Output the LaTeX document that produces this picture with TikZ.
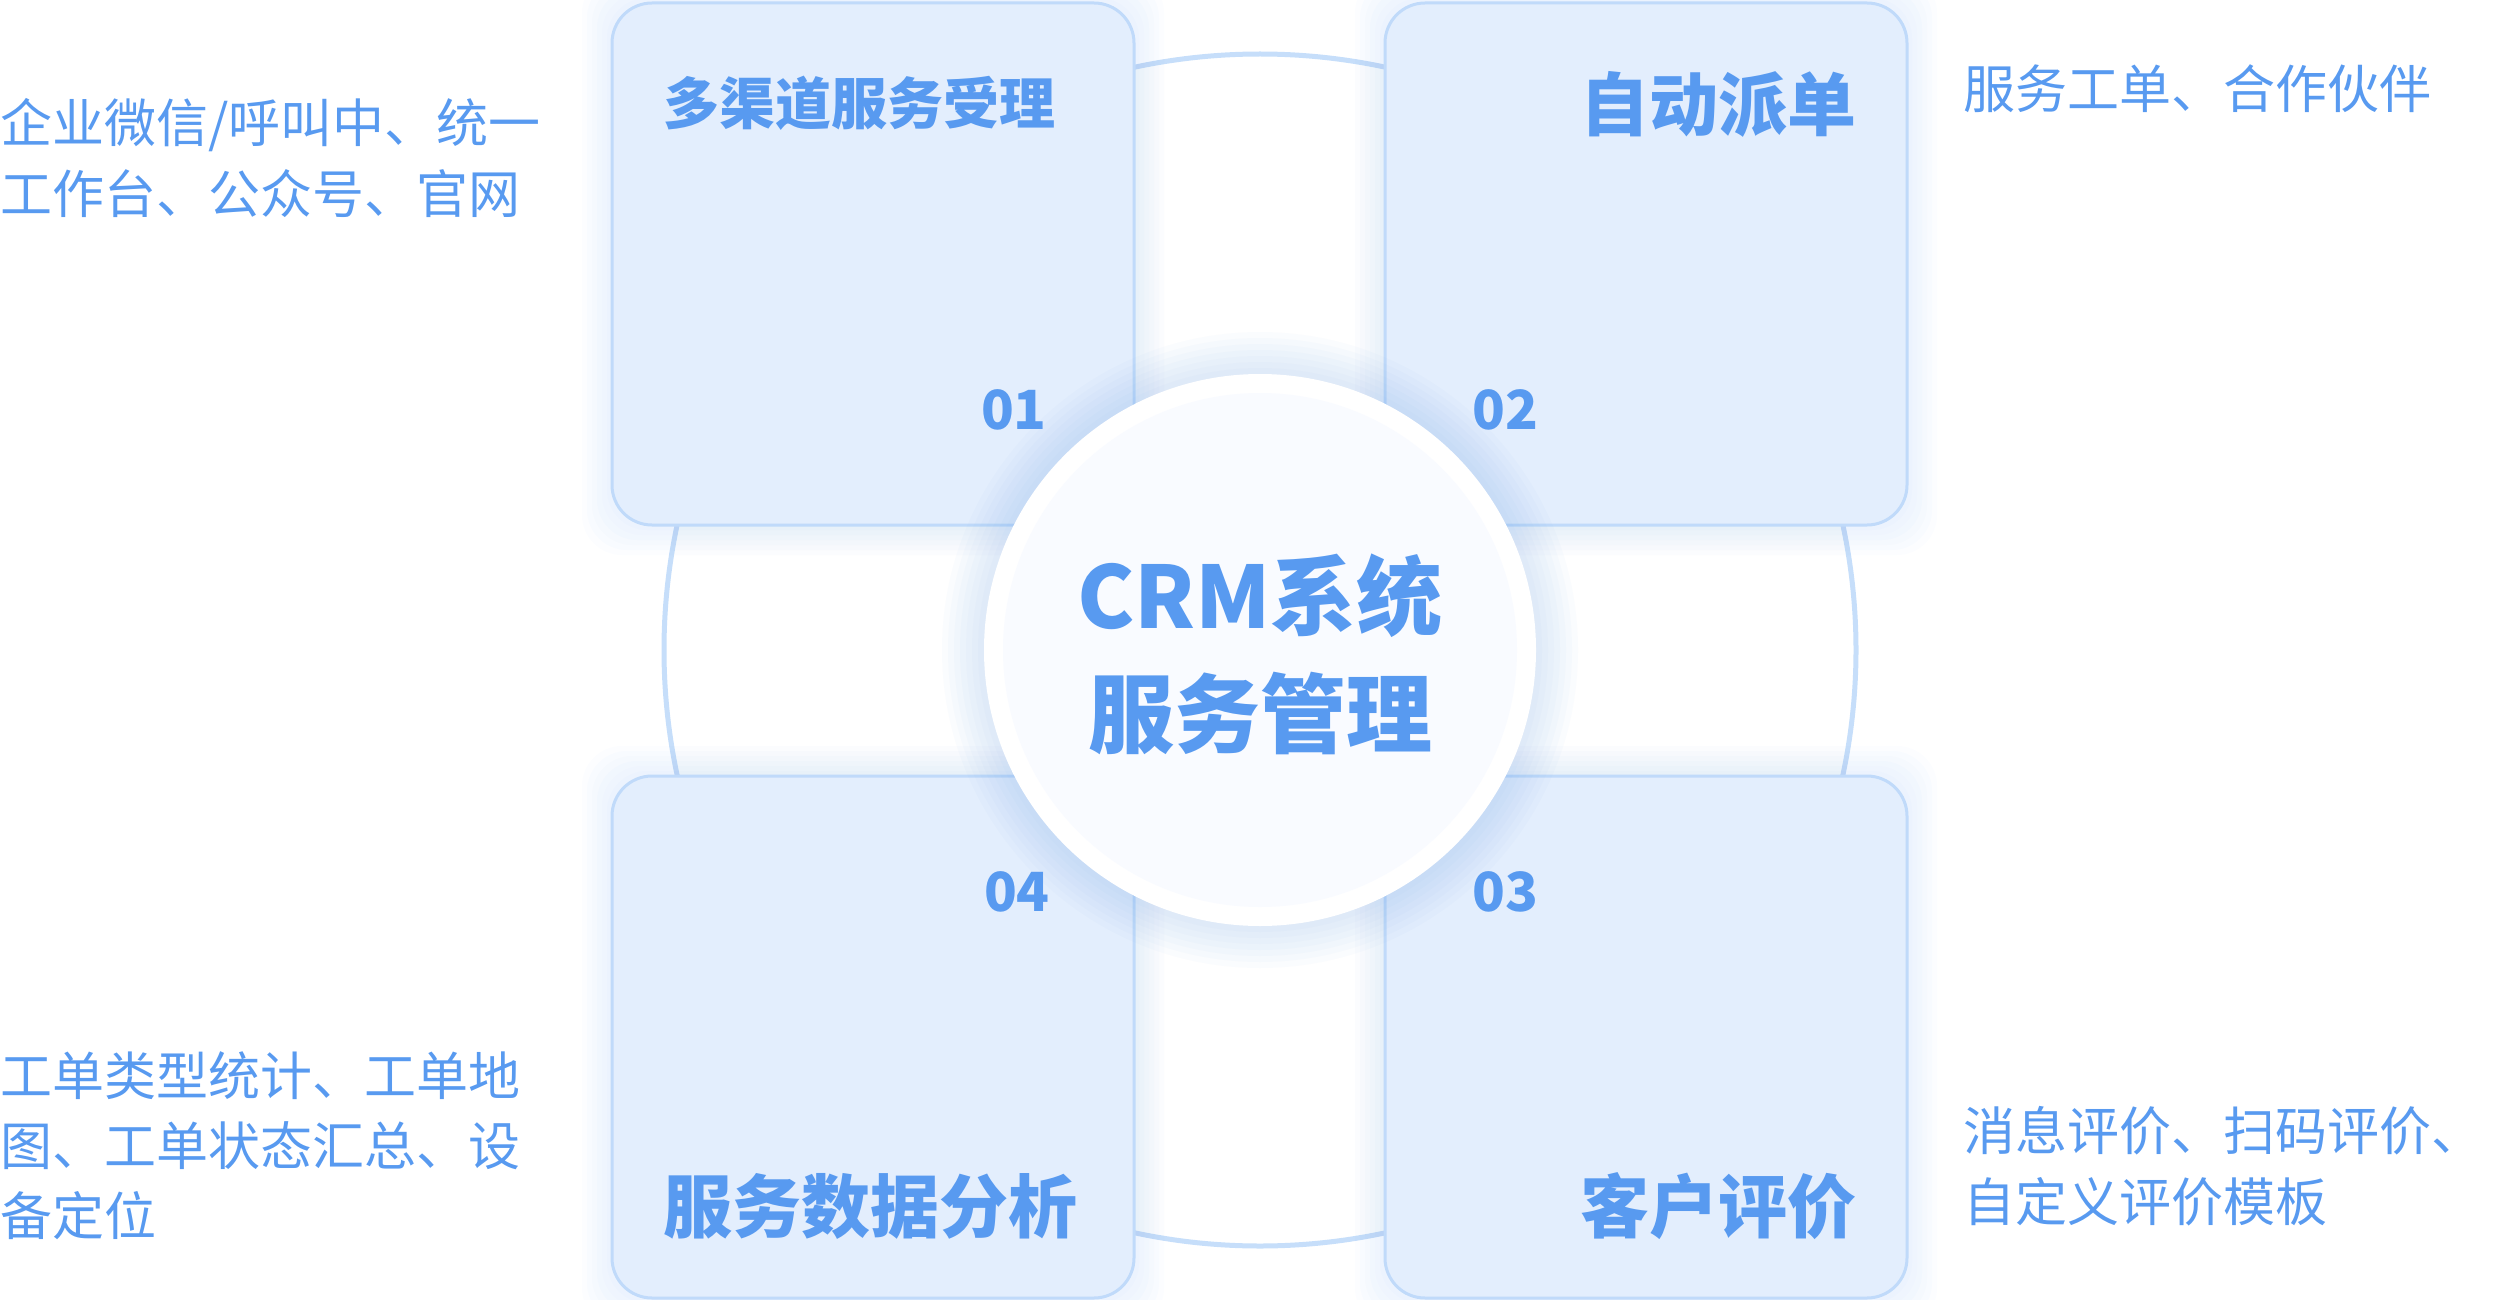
\documentclass[tikz,border=0pt]{standalone}
\usepackage{fontspec}
\setmainfont{Noto Sans CJK SC}
\definecolor{crmblue}{RGB}{88,154,240}
\definecolor{cardfill}{RGB}{227,238,253}
\definecolor{cardline}{RGB}{192,218,250}
\definecolor{ringline}{RGB}{198,222,250}
\definecolor{glowblue}{RGB}{110,165,245}
\definecolor{hubfill}{RGB}{249,251,255}
\tikzset{
  ring/.style={circle, draw=ringline, line width=5pt, fill=white,
    minimum size=1192pt, inner sep=0pt},
  card/.style={draw=cardline, line width=3pt, fill=cardfill,
    rounded corners=40pt, minimum width=522pt, minimum height=522pt,
    inner sep=0pt},
  hub/.style={circle, fill=white, minimum size=552pt, inner sep=0pt},
  hubin/.style={circle, fill=hubfill, minimum size=514pt, inner sep=0pt},
  title/.style={text=crmblue, inner sep=0pt,
    font=\bfseries\fontsize{#1}{#1}\selectfont},
  num/.style={text=crmblue, inner sep=0pt,
    font=\bfseries\fontsize{54}{54}\selectfont},
  note/.style={text=crmblue, inner sep=0pt, anchor=west, align=left,
    font=\fontsize{52}{#1}\selectfont}
}

\begin{document}
\begin{tikzpicture}[x=1pt,y=-1pt]
  \useasboundingbox (0,0) rectangle (2520,1300);
  % outer ring
  \node[ring] (ring) at (1260,650) {};
  % soft glow under the cards
  \foreach \cx/\cy in {873/264, 1646/264, 873/1037, 1646/1037}
    \foreach \k in {1,...,6}
      \fill[glowblue, opacity=0.025, rounded corners=40pt]
        (\cx-261-\k*5,\cy-261-\k*5) rectangle (\cx+261+\k*5,\cy+261+\k*5);
  \node[card] (c1) at (873,264) {};
  \node[card] (c2) at (1646,264) {};
  \node[card] (c4) at (873,1037) {};
  \node[card] (c3) at (1646,1037) {};
  % glow of the hub
  \foreach \k in {1,...,7}
    \fill[glowblue, opacity=0.03] (1260,650) circle (276+\k*6);
  \node[hub] (hub) at (1260,650) {};
  \node[hubin] (hubin) at (hub) {};
  \node[text=crmblue, align=center, inner sep=0pt,
    font=\bfseries\fontsize{86}{118}\selectfont] (crm) at (1260,654)
    {CRM系统\\服务管理};

  % card titles
  \node[title=56, anchor=west] (t1) at (663,103) {多渠道服务受理};
  \node[title=69, anchor=east] (t2) at (1857,104) {自动派单};
  \node[title=69, anchor=west] (t4) at (663,1206) {服务数据分析};
  \node[title=69, anchor=east] (t3) at (1857,1206) {客户评价};
  % numbers
  \node[num, anchor=east] (n1) at (1047,410) {01};
  \node[num, anchor=west] (n2) at (1472,410) {02};
  \node[num, anchor=east] (n4) at (1050,892) {04};
  \node[num, anchor=west] (n3) at (1472,892) {03};

  % side notes
  \node[note=71] (s1) at (0,158) {企业微信/呼叫中、统一\\工作台、公众号、官网};
  \node[note=71] (s2) at (1963,89) {服务工单、合作伙伴};
  \node[note=70] (s4) at (0,1146)
    {工单类型统计、工单地\\图、工单状态汇总、设\\备定位};
  \node[note=71] (s3) at (1963,1166) {消息评价、扫码评价、\\自定义评价模板};
\end{tikzpicture}
\end{document}
